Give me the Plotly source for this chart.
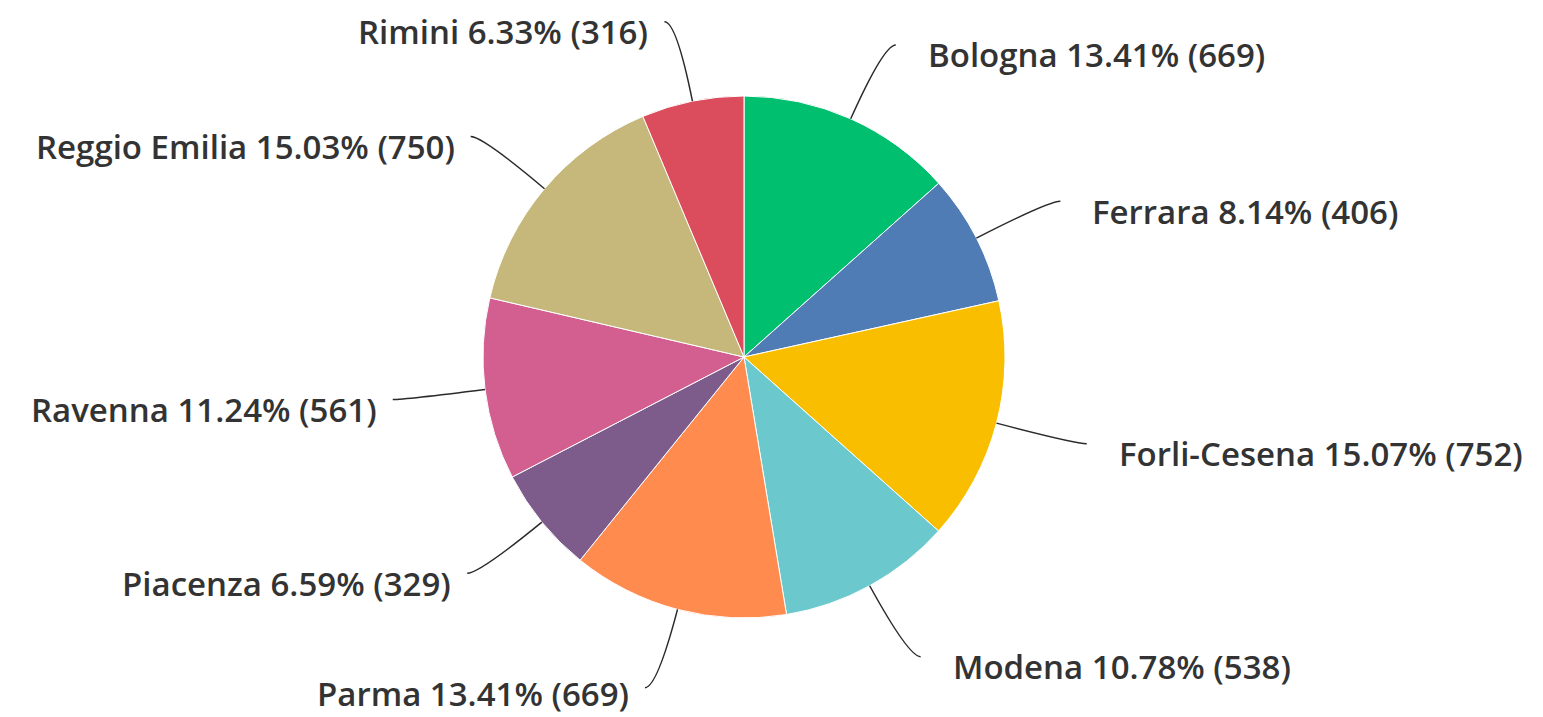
import math
import plotly.graph_objects as go

# ---- data ----
regions = ["Bologna", "Ferrara", "Forli-Cesena", "Modena", "Parma",
           "Piacenza", "Ravenna", "Reggio Emilia", "Rimini"]
counts = [669, 406, 752, 538, 669, 329, 561, 750, 316]
colors = ["#00BF6F", "#507CB6", "#F9BE00", "#6BC8CD", "#FF8B4F",
          "#7D5C8C", "#D25F90", "#C6B87A", "#DB4D5C"]

# ---- layout geometry (page pixels) ----
W, H = 1543, 717
CX, CY, R = 744, 357, 261
FONT_SIZE = 33
FONT = dict(family="Open Sans", size=FONT_SIZE, color="#333333", weight=600)

total = sum(counts)


def px(x, y):
    return x / W, 1 - y / H


(dx0, dy1), (dx1, dy0) = px(CX - R, CY - R), px(CX + R, CY + R)
fig = go.Figure(go.Pie(
    labels=regions, values=counts, sort=False, direction="clockwise",
    rotation=0, marker=dict(colors=colors, line=dict(color="white", width=1)),
    textinfo="none", hoverinfo="label+percent+value", showlegend=False,
    domain=dict(x=[dx0, dx1], y=[dy0, dy1]),
))

shapes, annotations = [], []
half_box = FONT_SIZE * 0.68
cum = 0
for name, v in zip(regions, counts):
    mid = (cum + v / 2) / total
    cum += v
    a = 2 * math.pi * mid
    dx, dy = math.sin(a), -math.cos(a)
    side = 1 if dx >= 0 else -1
    p0 = (CX + R * dx, CY + R * dy)
    p1 = (CX + 1.31 * R * dx, CY + 1.31 * R * dy)
    p2 = (p1[0] + side * 12, p1[1])
    q0, q1, q2 = px(*p0), px(*p1), px(*p2)
    shapes.append(dict(
        type="path", xref="paper", yref="paper",
        path=f"M {q0[0]} {q0[1]} Q {q1[0]} {q1[1]} {q2[0]} {q2[1]}",
        line=dict(color="#2a2a2a", width=1.5)))
    pct = 100 * v / total
    text = f"{name} {pct:.2f}% ({v})"
    lx = p2[0] + (30 if side > 0 else -14)
    ly = min(max(p2[1] + 10, half_box + 1), H - half_box - 1)
    tx, ty = px(lx, ly)
    annotations.append(dict(
        x=tx, y=ty, xref="paper", yref="paper", text=text, showarrow=False,
        xanchor="left" if side > 0 else "right", yanchor="middle", font=FONT))

fig.update_layout(
    width=W, height=H, margin=dict(l=0, r=0, t=0, b=0),
    paper_bgcolor="white", plot_bgcolor="white",
    shapes=shapes, annotations=annotations,
)

fig.write_html(
    "out.html",
    config={"displayModeBar": False},
    post_script="document.body.style.margin='0';document.body.style.overflow='hidden';",
)
